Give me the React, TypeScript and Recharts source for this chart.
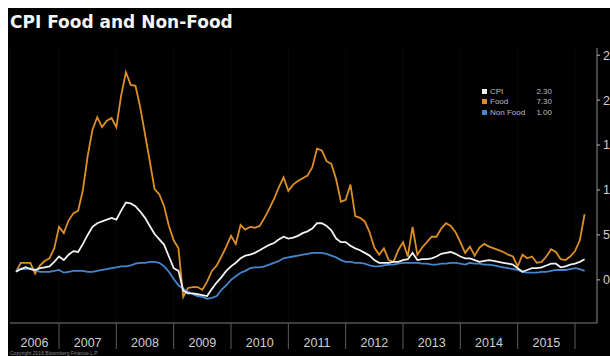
import React from 'react';
import { LineChart, Line, XAxis, YAxis, CartesianGrid } from 'recharts';

// monthly YoY %, Mar 2006 .. Feb 2016 (plotted at month end)
const START_MONTH = 3;

const food = [
  0.9, 1.9, 1.9, 1.9, 0.7, 1.6, 2.1, 2.4, 3.5, 5.9,
  5.2, 6.6, 7.4, 7.7, 10.0, 13.8, 16.7, 18.1, 17.0, 17.7, 18.0, 17.0,
  20.5, 23.1, 21.7, 21.6, 19.2, 16.2, 13.2, 10.1, 9.5, 8.2, 6.0, 4.4,
  3.5, -1.9, -0.9, -0.8, -0.8, -1.1, -0.2, 1.0, 1.6, 2.6, 3.7, 4.9,
  4.0, 6.1, 5.6, 5.9, 5.8, 6.0, 6.9, 7.9, 9.0, 10.3, 11.4, 9.9,
  10.6, 11.0, 11.3, 11.6, 12.5, 14.6, 14.4, 13.2, 12.9, 11.2, 8.7, 8.9,
  10.6, 7.1, 6.9, 6.5, 5.3, 3.6, 2.8, 3.5, 2.2, 2.0, 3.3, 4.2,
  2.6, 5.9, 2.8, 3.6, 4.2, 4.8, 4.8, 5.7, 6.3, 6.0, 5.3, 4.2,
  3.0, 3.7, 2.7, 3.6, 4.0, 3.7, 3.5, 3.3, 3.1, 2.8, 2.6, 1.5,
  2.8, 2.4, 2.6, 1.9, 2.0, 2.6, 3.4, 3.1, 2.3, 2.2, 2.6, 3.2,
  4.4, 7.3,
];

const cpi = [
  0.9, 1.2, 1.4, 1.2, 1.1, 1.3, 1.4, 1.5, 2.0, 2.6,
  2.2, 2.8, 3.2, 3.1, 4.0, 5.0, 5.9, 6.3, 6.5, 6.7, 6.9, 6.7,
  7.7, 8.6, 8.5, 8.2, 7.6, 6.9, 6.0, 5.1, 4.5, 3.9, 2.6, 1.3,
  1.0, -1.2, -1.5, -1.5, -1.6, -1.7, -1.8, -1.0, -0.3, 0.3, 1.0, 1.5,
  1.9, 2.4, 2.7, 2.8, 3.0, 3.3, 3.6, 3.9, 4.1, 4.5, 4.8, 4.6,
  4.7, 4.9, 5.2, 5.4, 5.7, 6.3, 6.3, 6.0, 5.5, 4.6, 4.2, 4.2,
  3.8, 3.5, 3.3, 3.0, 2.7, 2.2, 1.9, 1.9, 1.9, 2.0, 2.0, 2.2,
  2.3, 3.0, 2.2, 2.3, 2.3, 2.4, 2.6, 2.9, 3.0, 3.1, 2.9, 2.6,
  2.4, 2.4, 2.2, 2.0, 2.1, 2.2, 2.1, 2.0, 1.9, 1.8, 1.7, 1.3,
  0.9, 1.1, 1.3, 1.3, 1.4, 1.6, 1.8, 1.8, 1.4, 1.5, 1.7, 1.8,
  2.0, 2.3,
];

const nonFood = [
  1.1, 1.2, 1.2, 1.3, 1.1, 0.9, 0.9, 0.9, 1.0, 1.1,
  0.8, 0.9, 1.0, 1.0, 1.0, 0.9, 0.9, 1.0, 1.1, 1.2, 1.3, 1.4,
  1.5, 1.5, 1.6, 1.8, 1.9, 1.9, 2.0, 2.0, 1.9, 1.5, 0.9, 0.1,
  -0.6, -1.0, -1.3, -1.6, -1.8, -1.9, -2.1, -2.0, -1.8, -1.1, -0.6, 0.0,
  0.4, 0.8, 1.0, 1.3, 1.4, 1.4, 1.5, 1.7, 1.9, 2.1, 2.4, 2.5,
  2.6, 2.7, 2.8, 2.9, 3.0, 3.0, 3.0, 2.9, 2.7, 2.5, 2.2, 2.0,
  2.0, 1.9, 1.9, 1.8, 1.6, 1.5, 1.5, 1.6, 1.7, 1.7, 1.8, 1.9,
  1.9, 1.9, 1.9, 1.8, 1.8, 1.7, 1.7, 1.8, 1.8, 1.9, 1.9, 1.8,
  1.7, 1.9, 1.8, 1.8, 1.7, 1.7, 1.6, 1.5, 1.4, 1.3, 1.2, 1.1,
  0.9, 0.8, 0.8, 0.8, 0.9, 0.9, 1.0, 1.1, 1.1, 1.1, 1.2, 1.3,
  1.2, 1.0,
];

const yearLabels = ['2006', '2007', '2008', '2009', '2010', '2011', '2012', '2013', '2014', '2015'];
const yTicks = [0, 5, 10, 15, 20, 25];

const X_DOMAIN: [number, number] = [1.74, 124.6];
const Y_DOMAIN: [number, number] = [-4.8, 25.8];

const CHART_W = 629;
const MARGIN = { top: 40, right: 0, bottom: 0, left: 2 };
const Y_AXIS_W = 40;
const PLOT_W = CHART_W - MARGIN.left - MARGIN.right - Y_AXIS_W;
const PX_PER_MONTH = PLOT_W / (X_DOMAIN[1] - X_DOMAIN[0]);

const FOOD_COLOR = '#dd8f26';
const CPI_COLOR = '#f2f2f2';
const NONFOOD_COLOR = '#4585cc';

const data = cpi.map((v, i) => ({
  t: START_MONTH + i,
  cpi: v,
  food: food[i],
  nonFood: nonFood[i],
}));

// year ends: separator ticks; the label sits in the middle of the (visible) year
const yearTicks = yearLabels.map((_, i) => (i + 1) * 12);

const legendItems = [
  { name: 'CPI', color: CPI_COLOR, last: cpi[cpi.length - 1] },
  { name: 'Food', color: FOOD_COLOR, last: food[food.length - 1] },
  { name: 'Non Food', color: NONFOOD_COLOR, last: nonFood[nonFood.length - 1] },
];

const FONT = 'Liberation Sans, Arial, sans-serif';
const axisFont = { fontSize: 12.5, fontFamily: FONT, fill: '#cfcfcf' };

const YearTick = (props: any) => {
  const { x, y, payload, index } = props;
  const end = payload.value;
  const start = Math.max(end - 12, X_DOMAIN[0]);
  const lx = x - ((end - start) / 2) * PX_PER_MONTH;
  return (
    <text x={lx} y={y - 2} textAnchor="middle" {...axisFont}>
      {yearLabels[index]}
    </text>
  );
};

export default function App() {
  return (
    <div style={{ position: 'absolute', left: 8, top: 8, width: 602, height: 348, background: '#000', overflow: 'hidden' }}>
      <div style={{
        position: 'absolute', left: 2, top: 6, color: '#f4f4f4', fontFamily: 'DejaVu Sans, sans-serif',
        fontWeight: 'bold', fontSize: 17, lineHeight: '17px', whiteSpace: 'nowrap',
      }}>
        CPI Food and Non-Food
      </div>

      <LineChart width={CHART_W} height={348} data={data} margin={MARGIN}>
        <CartesianGrid horizontal={false} stroke="#0a0a0a" />
        <XAxis
          dataKey="t" type="number" domain={X_DOMAIN} allowDataOverflow
          ticks={yearTicks} tick={<YearTick />} height={33} tickSize={26} tickMargin={0} interval={0}
          axisLine={{ stroke: '#7a7a7a' }} tickLine={{ stroke: '#5e5e5e' }}
        />
        <YAxis
          orientation="right" type="number" domain={Y_DOMAIN} allowDataOverflow ticks={yTicks}
          width={Y_AXIS_W} tickSize={3} tickMargin={3} axisLine={{ stroke: '#8a8a8a' }}
          tickLine={{ stroke: '#bbbbbb' }} tick={{ ...axisFont, textAnchor: 'start' }} interval={0}
        />
        <Line type="linear" dataKey="food" stroke={FOOD_COLOR} strokeWidth={1.8} dot={false} isAnimationActive={false} />
        <Line type="linear" dataKey="nonFood" stroke={NONFOOD_COLOR} strokeWidth={1.8} dot={false} isAnimationActive={false} />
        <Line type="linear" dataKey="cpi" stroke={CPI_COLOR} strokeWidth={1.8} dot={false} isAnimationActive={false} />
      </LineChart>

      {/* legend */}
      <div style={{ position: 'absolute', left: 474, top: 78, fontFamily: FONT, fontSize: 8, color: '#bdbdbd' }}>
        {legendItems.map((it) => (
          <div key={it.name} style={{ display: 'flex', alignItems: 'center', height: 10.5 }}>
            <span style={{ width: 5, height: 5, background: it.color, marginRight: 3 }} />
            <span style={{ width: 44 }}>{it.name}</span>
            <span style={{ width: 18, textAlign: 'right' }}>{it.last.toFixed(2)}</span>
          </div>
        ))}
      </div>

      <div style={{ position: 'absolute', left: 2, top: 342, fontFamily: FONT, fontSize: 5, color: '#8a8a8a', whiteSpace: 'nowrap' }}>
        Copyright 2016 Bloomberg Finance L.P.
      </div>
    </div>
  );
}
